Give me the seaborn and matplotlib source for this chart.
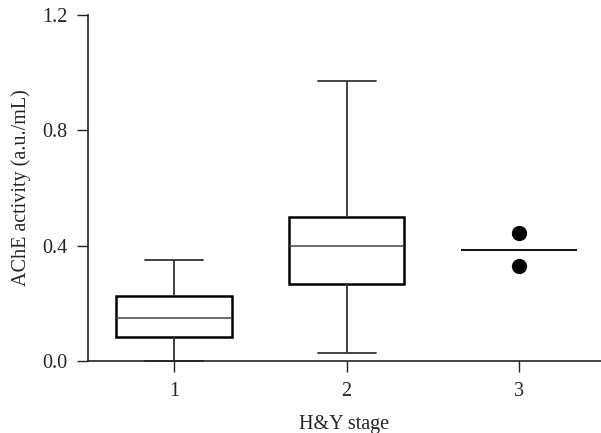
import matplotlib
matplotlib.use("Agg")
import matplotlib.pyplot as plt
import seaborn as sns
import pandas as pd
import numpy as np

# valores (min, Q1, mediana, Q3, max) por estágio
stages = ["1", "2", "3"]
stage1 = [0.0, 0.083, 0.149, 0.225, 0.350]
stage2 = [0.027, 0.268, 0.400, 0.500, 0.970]
stage3 = [0.329, 0.443]  # só dois pontos

yticks = [0.0, 0.4, 0.8, 1.2]
ytick_labels = ["0.0", "0.4", "0.8", "1.2"]

df_box = pd.DataFrame({
    "stage": ["1"] * len(stage1) + ["2"] * len(stage2),
    "ache": stage1 + stage2,
})
df_pts = pd.DataFrame({"stage": ["3"] * len(stage3), "ache": stage3})

sns.set_style("ticks")
plt.rcParams["font.family"] = ["Liberation Serif", "DejaVu Serif"]

fig = plt.figure(figsize=(6.01, 4.33), dpi=100)
ax = fig.add_axes([0.1464, 0.1663, 0.8536, 0.799])

w = 0.67
sns.boxplot(data=df_box, x="stage", y="ache", order=stages, whis=(0, 100),
            width=w, color="white", linecolor="black", linewidth=1.0,
            boxprops=dict(linewidth=1.8, edgecolor="black"),
            whiskerprops=dict(linewidth=1.3, color="#333333"),
            capprops=dict(linewidth=1.3, color="#333333"),
            medianprops=dict(linewidth=1.1, color="#444444"),
            ax=ax)

# estágio 3: pontos + mediana
sns.stripplot(data=df_pts, x="stage", y="ache", order=stages, jitter=False,
              color="black", size=11, ax=ax)
med3 = np.median(stage3)
ax.hlines(med3, 2 - w / 2, 2 + w / 2, color="black", linewidth=1.3)

ax.set_xlim(-0.5, 2.475)
ax.set_ylim(0, 1.2)
ax.set_yticks(yticks)
ax.set_yticklabels(ytick_labels)
ax.set_xlabel("H&Y stage", fontsize=14.5, labelpad=10)
ax.set_ylabel("AChE activity (a.u./mL)", fontsize=14.5, labelpad=8)
ax.tick_params(axis="both", labelsize=14.5, length=8, width=1.0,
               color="#222222", direction="out", pad=7)
sns.despine(ax=ax)
for s in ["left", "bottom"]:
    ax.spines[s].set_color("#222222")
    ax.spines[s].set_linewidth(1.2)
for line in ax.lines:
    line.set_clip_on(False)

fig.savefig("out.png", dpi=100)
